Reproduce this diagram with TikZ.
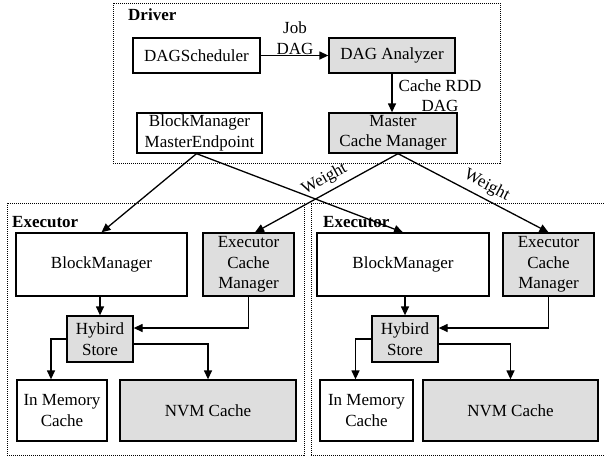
\documentclass[tikz,border=0pt]{standalone}
\usepackage{fontspec}
\setmainfont{Liberation Serif}
\usetikzlibrary{arrows.meta,calc}
\begin{document}
\begin{tikzpicture}[x=1pt,y=-1pt,
  font=\fontsize{17}{20.5}\selectfont,
  box/.style={draw,line width=1.3pt,inner sep=0pt,align=center},
  wbox/.style={box,fill=white},
  gbox/.style={box,fill=black!13},
  grp/.style={densely dotted,line width=1pt},
  arr/.style={line width=1.3pt,-{Triangle[length=9pt,width=8pt]}},
  wlab/.style={sloped,above,inner sep=4.5pt},
  title/.style={font=\fontsize{17}{20.5}\selectfont\bfseries,anchor=west,inner sep=0pt}]
\useasboundingbox (0,0) rectangle (604,461);
% groups
\draw[grp] (113,3) rectangle (500,163);
\draw[grp] (7,203) rectangle (304,455);
\draw[grp] (311,455) -- (311,203) -- (606,203);
\draw[grp] (311,455) -- (606,455);
\node[title] (tdrv) at (128,15) {Driver};
\node[title] (tex1) at (12,222) {Executor};
\node[title] (tex2) at (323,222) {Executor};
% driver
\node[wbox,minimum width=127,minimum height=35] (dags) at (196.5,55.5) {DAGScheduler};
\node[gbox,minimum width=126,minimum height=35] (daga) at (392,55.5) {DAG Analyzer};
\node[wbox,minimum width=125,minimum height=40] (bmme) at (199.5,133) {BlockManager\\MasterEndpoint};
\node[gbox,minimum width=128,minimum height=40] (mcm) at (393,133) {Master\\Cache Manager};
\node[align=center,inner sep=0pt] (ljob) at (295,38) {Job\\DAG};
\node[align=center,inner sep=0pt] (lcr) at (440,95.5) {Cache RDD\\DAG};
\draw[arr] (dags.east) -- (daga.west);
\draw[arr] (daga.south) -- (daga.south |- mcm.north);
% left executor
\node[wbox,minimum width=171,minimum height=63] (bm1) at (101.5,264.5) {BlockManager};
\node[gbox,minimum width=91,minimum height=63] (ecm1) at (248.5,264.5) {Executor\\Cache\\Manager};
\node[gbox,minimum width=66,minimum height=46] (hs1) at (100,339) {Hybird\\Store};
\node[wbox,minimum width=90,minimum height=61] (imc1) at (62,410.5) {In Memory\\Cache};
\node[gbox,minimum width=176,minimum height=61] (nvm1) at (208,410.5) {NVM Cache};
% right executor
\node[wbox,minimum width=172,minimum height=63] (bm2) at (403,264.5) {BlockManager};
\node[gbox,minimum width=91,minimum height=63] (ecm2) at (548.5,264.5) {Executor\\Cache\\Manager};
\node[gbox,minimum width=66,minimum height=46] (hs2) at (405,339) {Hybird\\Store};
\node[wbox,minimum width=93,minimum height=61] (imc2) at (366.5,410.5) {In Memory\\Cache};
\node[gbox,minimum width=175,minimum height=61] (nvm2) at (510.5,410.5) {NVM Cache};
% executor arrows
\foreach \i in {1,2}{
  \draw[arr] (hs\i.north |- bm\i.south) -- (hs\i.north);
  \draw[arr] (ecm\i.south) |- ([yshift=11pt]hs\i.east);
  \draw[arr] (hs\i.west) -| ([xshift=-11pt]imc\i.north);
  \draw[arr] ([yshift=-5pt]hs\i.east) -| (nvm\i.north);
}
% cross arrows
\coordinate (bmmeS) at ([xshift=-3pt]bmme.south);
\coordinate (mcmS) at ([xshift=5pt]mcm.south);
\draw[arr] (bmmeS) -- (bm1.north);
\draw[arr] (bmmeS) -- (bm2.north);
\draw[arr] (mcmS) -- node[pos=0.47,wlab] {Weight} ([xshift=6.5pt]ecm1.north);
\draw[arr] (mcmS) -- node[pos=0.55,wlab] {Weight} (ecm2.north);
\end{tikzpicture}
\end{document}
